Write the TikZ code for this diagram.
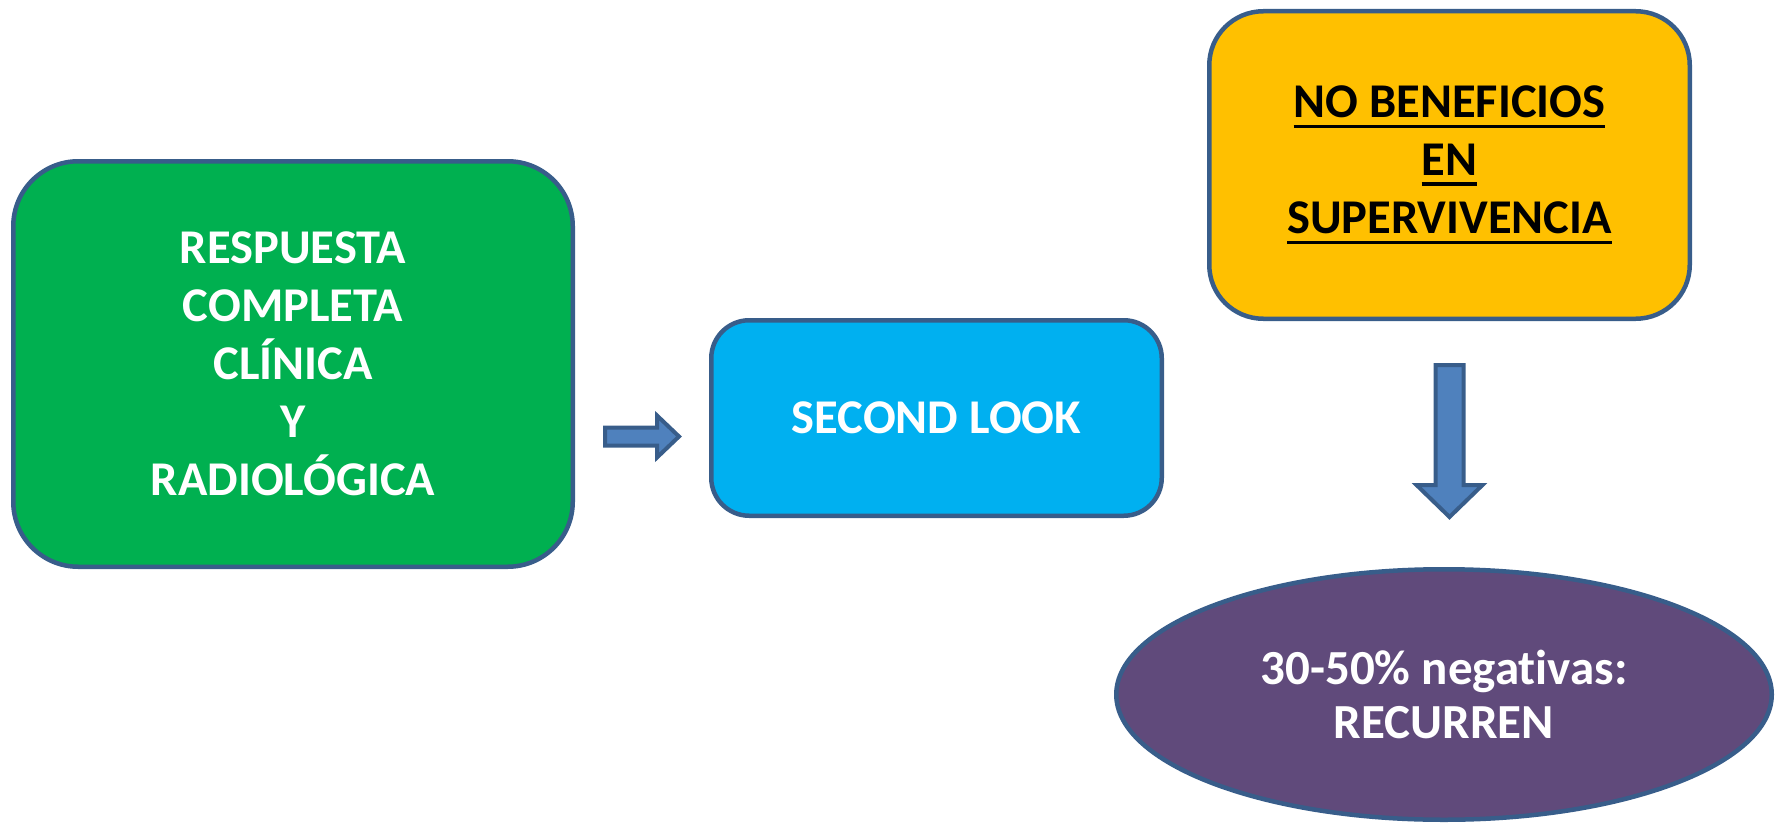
\documentclass[tikz,border=0pt]{standalone}
\usepackage{fontspec}
\setmainfont{Carlito}[Ligatures=NoCommon]
\usetikzlibrary{calc,shapes.geometric}
\definecolor{bord}{HTML}{385D8A}
\definecolor{cgreen}{HTML}{00B050}
\definecolor{cblue}{HTML}{00B0F0}
\definecolor{corange}{HTML}{FFC000}
\definecolor{cpurple}{HTML}{604A7B}
\definecolor{carrow}{HTML}{4F81BD}
\newcommand\ulbox[1]{\vtop{\hbox{#1}\kern7pt\hrule height 3.5pt}}
\tikzset{
  boxbase/.style={draw=bord, line width=4.5pt, inner sep=0pt, align=center,
    font=\fontsize{48.5}{58}\selectfont\bfseries},
  blockarrow/.style={draw=bord, line width=4pt, fill=carrow, line join=miter},
  hbarrow/.style={to path={let \p1=(\tikztostart), \p2=(\tikztotarget) in
    (\x1,\y1+9pt) -- (\x2-22pt,\y1+9pt) -- (\x2-22pt,\y1+21pt) -- (\x2,\y1)
    -- (\x2-22pt,\y1-21pt) -- (\x2-22pt,\y1-9pt) -- (\x1,\y1-9pt) -- cycle}},
  vbarrow/.style={to path={let \p1=(\tikztostart), \p2=(\tikztotarget) in
    (\x1-14pt,\y1) -- (\x1+14pt,\y1) -- (\x1+14pt,\y2+32pt) -- (\x1+33pt,\y2+32pt)
    -- (\x1,\y2) -- (\x1-33pt,\y2+32pt) -- (\x1-14pt,\y2+32pt) -- cycle}}
}
\begin{document}
\begin{tikzpicture}[x=1pt,y=-1pt]
\useasboundingbox (0,0) rectangle (1777,824);
\node[boxbase, fill=cgreen, text=white, rounded corners=65pt,
  minimum width=559.5pt, minimum height=405.5pt] (green) at (293,364)
  {RESPUESTA\\COMPLETA\\CLÍNICA\\Y\\RADIOLÓGICA};
\node[boxbase, fill=cblue, text=white, rounded corners=38pt,
  minimum width=450.5pt, minimum height=195.5pt] (blue) at (936.5,418)
  {SECOND LOOK};
\node[boxbase, fill=corange, text=black, rounded corners=54pt,
  minimum width=480.5pt, minimum height=307.5pt] (orange) at (1449.5,165)
  {\ulbox{NO BENEFICIOS}\\\ulbox{EN}\\\ulbox{SUPERVIVENCIA}};
\node[boxbase, ellipse, fill=cpurple, text=white,
  font=\fontsize{49}{54}\selectfont\bfseries,
  minimum width=655.5pt, minimum height=250.5pt] (ell) at (1444,694.5)
  {30-50\% negativas:\\RECURREN};
\coordinate (a1) at ($(green.east)+(30,72.5)$);
\coordinate (a2) at ($(blue.west)+(-30,18.5)$);
\draw[blockarrow] (a1) to[hbarrow] (a2);
\coordinate (b1) at ($(orange.south)+(0,44)$);
\coordinate (b2) at ($(ell.north)+(0,-50)$);
\draw[blockarrow] (b1) to[vbarrow] (b2);
\end{tikzpicture}
\end{document}
